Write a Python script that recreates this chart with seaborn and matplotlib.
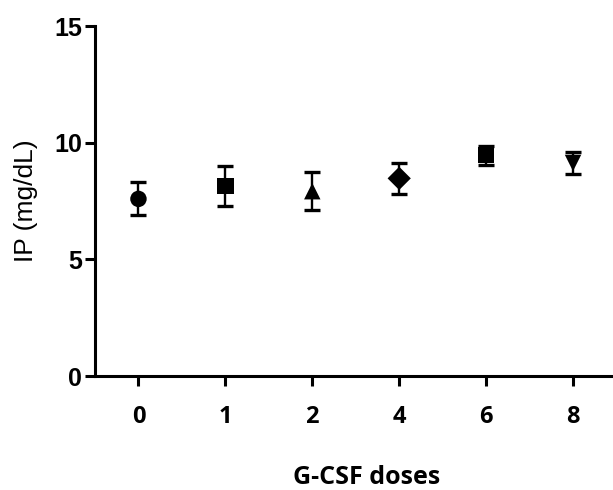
import numpy as np
import matplotlib
matplotlib.use("Agg")
import matplotlib.pyplot as plt
import pandas as pd
import seaborn as sns

doses = ["0", "1", "2", "4", "6", "8"]
ip_mean = [7.59, 8.15, 7.92, 8.47, 9.46, 9.13]
ip_sem = [0.71, 0.87, 0.81, 0.65, 0.40, 0.49]
marker_shapes = ["o", "s", "^", "D", "s", "v"]

df = pd.DataFrame({"dose": doses, "ip": ip_mean, "sem": ip_sem})
df["pos"] = np.arange(len(doses))

sns.set_style("ticks")
plt.rcParams["font.family"] = ["Liberation Sans", "DejaVu Sans"]
plt.rcParams["text.color"] = "black"
plt.rcParams["axes.labelcolor"] = "black"
plt.rcParams["xtick.color"] = "black"
plt.rcParams["ytick.color"] = "black"
arial = ["Liberation Sans", "DejaVu Sans"]
calib = ["Open Sans", "DejaVu Sans"]

fig = plt.figure(figsize=(6.13, 4.9), dpi=100)
ax = fig.add_axes([95 / 613, 1 - 376 / 490, 518 / 613, 350 / 490])

ax.errorbar(df["pos"], df["ip"], yerr=df["sem"], fmt="none", ecolor="black",
            elinewidth=1.7, capsize=6, capthick=2.4, zorder=2)
sns.scatterplot(data=df, x="pos", y="ip", style="dose",
                markers=dict(zip(doses, marker_shapes)), color="black",
                s=140, linewidth=0, legend=False, ax=ax, zorder=3)

ax.set_xlim(-0.5, 5.46)
ax.set_ylim(0, 15)
ax.set_yticks([0, 5, 10, 15])
ax.set_xticks(df["pos"], doses)

sns.despine(ax=ax)
for s in ["left", "bottom"]:
    ax.spines[s].set_linewidth(2.2)
    ax.spines[s].set_color("black")
ax.tick_params(axis="both", width=2.2, length=7.2, color="black")
ax.tick_params(axis="x", pad=14)
ax.tick_params(axis="y", pad=2)

for t in ax.get_yticklabels():
    t.set_family(arial)
    t.set_fontsize(18)
    t.set_fontweight("bold")
for t in ax.get_xticklabels():
    t.set_family(calib)
    t.set_fontsize(17)
    t.set_fontweight("bold")

ax.set_ylabel("IP (mg/dL)", family=arial, fontsize=19, labelpad=12)
ax.set_xlabel("G-CSF doses", family=calib, fontsize=18, fontweight="bold")
ax.xaxis.set_label_coords(0.524, -0.255)

fig.savefig("out.png", dpi=100)
